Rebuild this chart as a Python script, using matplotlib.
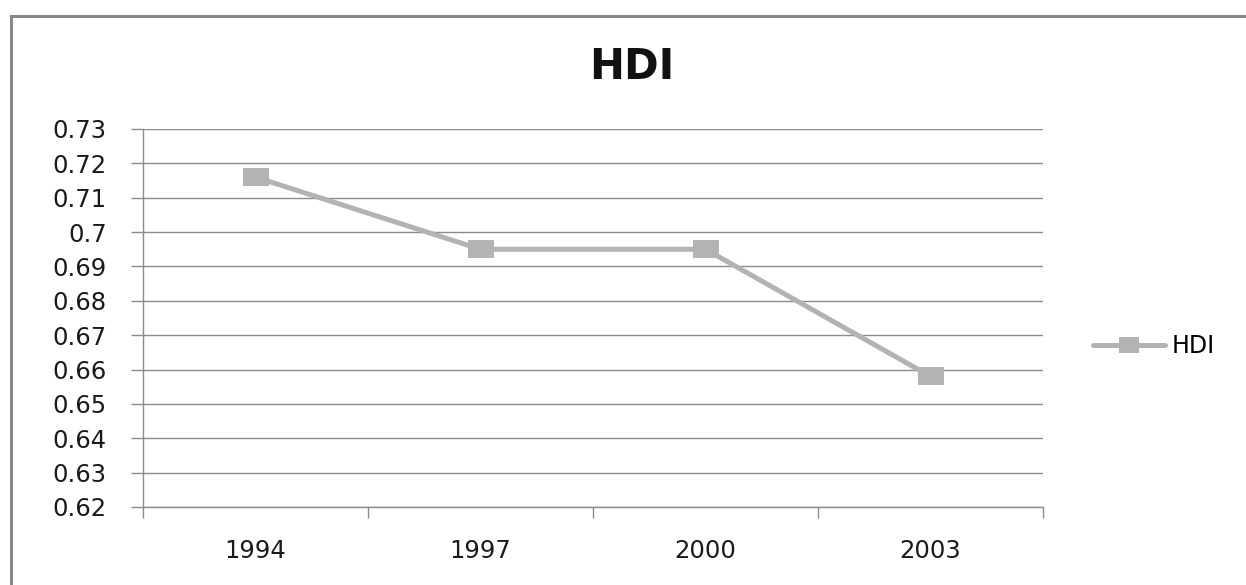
import matplotlib
matplotlib.use("Agg")
import matplotlib.pyplot as plt
from matplotlib.lines import Line2D

years = ['1994', '1997', '2000', '2003']
hdi = [0.716, 0.695, 0.695, 0.658]
ytick_vals = [0.62, 0.63, 0.64, 0.65, 0.66, 0.67, 0.68, 0.69, 0.70, 0.71, 0.72, 0.73]
ytick_labels = ['0.62', '0.63', '0.64', '0.65', '0.66', '0.67', '0.68', '0.69', '0.7', '0.71', '0.72', '0.73']

W, H = 1246, 585
fig = plt.figure(figsize=(W / 100, H / 100), dpi=100)
ax = fig.add_axes([143 / W, 1 - 507 / H, 900 / W, 378 / H])

grey = '#b3b3b3'
axis_grey = '#8c8c8c'

# Excel style stretched square marker
box = [(-1, -0.73), (1, -0.73), (1, 0.73), (-1, 0.73), (-1, -0.73)]
xs = range(1, len(years) + 1)
ax.plot(xs, hdi, color=grey, lw=3.6, marker=box, markersize=18.7,
        markeredgewidth=0, markerfacecolor=grey, label='HDI', solid_capstyle='round')

ax.set_xlim(0.5, len(years) + 0.5)
ax.set_ylim(ytick_vals[0], ytick_vals[-1])
ax.set_yticks(ytick_vals)
ax.set_yticklabels(ytick_labels)
ax.yaxis.grid(True, color=axis_grey, lw=1)
ax.set_axisbelow(True)

# category ticks at bin edges, labels at centres
ax.set_xticks([i + 0.5 for i in range(len(years) + 1)])
ax.set_xticklabels([])
ax.set_xticks(list(xs), minor=True)
ax.set_xticklabels(years, minor=True)
ax.tick_params(axis='x', which='minor', length=0, pad=23, labelsize=17.5, labelcolor='#1a1a1a')
ax.tick_params(axis='x', which='major', length=8, width=1, color=axis_grey, direction='out')
ax.tick_params(axis='y', length=9, width=1, color=axis_grey, direction='out', pad=17,
               labelsize=17.5, labelcolor='#1a1a1a')

for s in ['top', 'right']:
    ax.spines[s].set_visible(False)
for s in ['left', 'bottom']:
    ax.spines[s].set_color(axis_grey)
    ax.spines[s].set_linewidth(1)

fig.text(632 / W, 1 - 67 / H, 'HDI', ha='center', va='center', fontsize=30,
         fontweight='bold', color='#111111')

fig.legend(loc='center left', bbox_to_anchor=(1093 / W, 1 - 346 / H), frameon=False,
           fontsize=17, handlelength=3.05, handletextpad=0.3, borderpad=0,
           borderaxespad=0, markerscale=0.8)

# outer chart border (only left and top are inside the image)
frame = '#888888'
fig.add_artist(Line2D([10.5 / W, 10.5 / W], [0, 1 - 16 / H], color=frame, lw=2.2,
                      transform=fig.transFigure))
fig.add_artist(Line2D([10.5 / W, 1], [1 - 16 / H, 1 - 16 / H], color=frame, lw=2.2,
                      transform=fig.transFigure))

fig.savefig('out.png', dpi=100, facecolor='white')
